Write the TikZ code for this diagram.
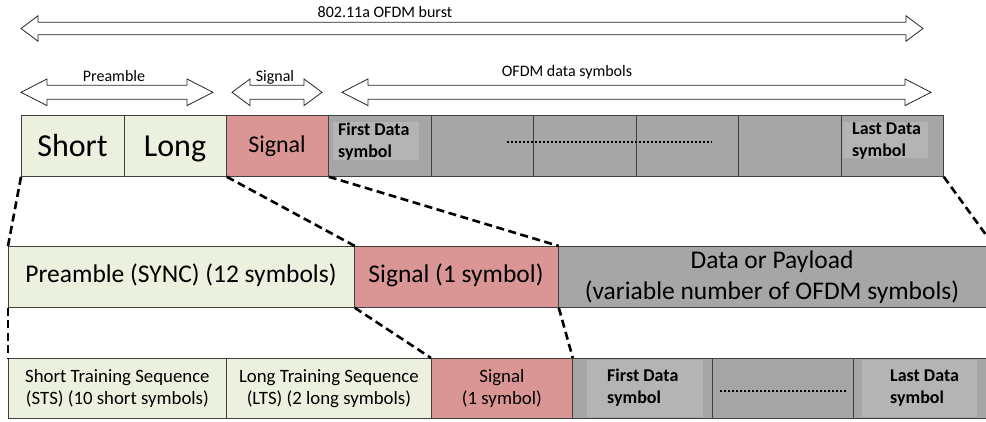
\documentclass[tikz,border=0pt]{standalone}
\usepackage{fontspec}
\setmainfont{Carlito}
\definecolor{cgreen}{HTML}{EBF1DE}
\definecolor{cred}{HTML}{D99694}
\definecolor{cgray}{HTML}{A6A6A6}
\definecolor{cgrayl}{HTML}{B4B4B4}
\definecolor{cedge}{HTML}{3F3F3F}
\tikzset{
  seg/.style={draw=cedge, line width=0.8pt, rectangle, inner sep=0pt, anchor=north west},
  gbox/.style={seg, fill=cgreen},
  rbox/.style={seg, fill=cred},
  dbox/.style={seg, fill=cgray},
  inbox/.style={fill=cgrayl, draw=none},
  zoomline/.style={line width=2.6pt, dash pattern=on 8pt off 4.5pt},
  dotline/.style={line width=1.6pt, dash pattern=on 1.6pt off 2.4pt},
  arrowbox/.style={draw=black!85, line width=0.8pt, fill=white, line join=miter},
  lbl/.style={font=\fontsize{16}{19}\selectfont, inner sep=0pt},
}
\newcommand\dblarrow[6]{%
  \draw[arrowbox] (#1,#3) -- ({#1+#6},{#3-#5}) -- ({#1+#6},{#3-#4}) -- ({#2-#6},{#3-#4}) -- ({#2-#6},{#3-#5}) -- (#2,#3) -- ({#2-#6},{#3+#5}) -- ({#2-#6},{#3+#4}) -- ({#1+#6},{#3+#4}) -- ({#1+#6},{#3+#5}) -- cycle;}
\newcommand\bx[6]{% style, name, x1, y1, x2, y2
  \node[#1, minimum width={(#5-#3)*1pt}, minimum height={(#6-#4)*1pt}] (#2) at (#3,#4) {};}
\begin{document}
\begin{tikzpicture}[x=1pt,y=-1pt]
\clip (0,0) rectangle (986,422);
% ---- arrows ----
\dblarrow{21}{923}{28.5}{6.3}{12.7}{17}
\dblarrow{21}{213}{92.3}{7}{13.3}{26}
\dblarrow{232}{322}{92.3}{7}{13.3}{18}
\dblarrow{342}{931}{92.3}{7}{13.3}{26}
\node[lbl] (tburst) at (385,12) {802.11a OFDM burst};
\node[lbl] (tpre) at (114,76) {Preamble};
\node[lbl] (tsig) at (275,77) {Signal};
\node[lbl] (tofdm) at (567,72) {OFDM data symbols};
% ---- top row ----
\bx{gbox}{short}{21}{115}{124}{176}
\bx{gbox}{long}{124}{115}{226}{176}
\bx{rbox}{sig1}{226}{115}{328}{176}
\bx{dbox}{d1}{328}{115}{431}{176}
\bx{dbox}{d2}{431}{115}{533}{176}
\bx{dbox}{d3}{533}{115}{636}{176}
\bx{dbox}{d4}{636}{115}{738}{176}
\bx{dbox}{d5}{738}{115}{841}{176}
\bx{dbox}{last1}{841}{115}{943}{176}
\fill[inbox] (333,122) rectangle (419,160);
\fill[inbox] (843,122) rectangle (928,158);
\node[font=\fontsize{32}{36}\selectfont, anchor=base, inner sep=0pt] (tshort) at (72.5,157) {Short};
\node[font=\fontsize{32}{36}\selectfont, anchor=base, inner sep=0pt] (tlong) at (175,157) {Long};
\node[font=\fontsize{24}{28}\selectfont, anchor=base, inner sep=0pt] (tsig1) at (277,152.5) {Signal};
\node[font=\bfseries\fontsize{18}{22}\selectfont, align=left, anchor=west, inner sep=0pt] (tfd1) at (338,142) {First Data\\symbol};
\node[font=\bfseries\fontsize{18}{22}\selectfont, align=left, anchor=west, inner sep=0pt] (tld1) at (852,141) {Last Data\\symbol};
\draw[dotline] (507,142) -- (712,142);
% ---- middle row ----
\bx{gbox}{pre}{8}{246}{354}{307}
\bx{rbox}{sig2}{354}{246}{558}{307}
\bx{dbox}{data2}{558}{246}{992}{307}
\node[font=\fontsize{25.5}{30}\selectfont, anchor=base, inner sep=0pt] (tpre2) at (181,283) {Preamble (SYNC) (12 symbols)};
\node[font=\fontsize{25.5}{30}\selectfont, anchor=base, inner sep=0pt] (tsig2) at (456,283) {Signal (1 symbol)};
\node[font=\fontsize{25.5}{31}\selectfont, align=center] (tdata2) at (772,277.5) {Data or Payload\\(variable number of OFDM symbols)};
% ---- bottom row ----
\bx{gbox}{sts}{8}{358}{226}{418}
\bx{gbox}{lts}{226}{358}{431}{418}
\bx{rbox}{sig3}{431}{358}{572}{418}
\bx{dbox}{fd3}{572}{358}{712}{418}
\bx{dbox}{dots3}{712}{358}{853}{418}
\bx{dbox}{ld3}{853}{358}{992}{418}
\fill[inbox] (587,360) rectangle (703,417);
\fill[inbox] (862,360) rectangle (977,417);
\node[font=\fontsize{18.8}{22}\selectfont, align=center] (tsts) at (sts.center) {Short Training Sequence\\(STS) (10 short symbols)};
\node[font=\fontsize{18.8}{22}\selectfont, align=center] (tlts) at (lts.center) {Long Training Sequence\\(LTS) (2 long symbols)};
\node[font=\fontsize{18.8}{22}\selectfont, align=center] (tsig3) at (sig3.center) {Signal\\(1 symbol)};
\node[font=\bfseries\fontsize{18}{22}\selectfont, align=left, anchor=west, inner sep=0pt] (tfd3) at (607,388) {First Data\\symbol};
\node[font=\bfseries\fontsize{18}{22}\selectfont, align=left, anchor=west, inner sep=0pt] (tld3) at (890,388) {Last Data\\symbol};
\draw[dotline] (720,391) -- (847,391);
% ---- zoom connectors ----
\coordinate (offr) at (990,240.4);
\draw[zoomline] (short.south west) -- (pre.north west);
\draw[zoomline] (long.south east) -- (pre.north east);
\draw[zoomline] (sig1.south east) -- (sig2.north east);
\draw[zoomline] (last1.south east) -- (offr);
\draw[zoomline] (pre.south west) -- (sts.north west);
\draw[zoomline] (pre.south east) -- (sig3.north west);
\draw[zoomline] (sig2.south east) -- (sig3.north east);
\end{tikzpicture}
\end{document}
